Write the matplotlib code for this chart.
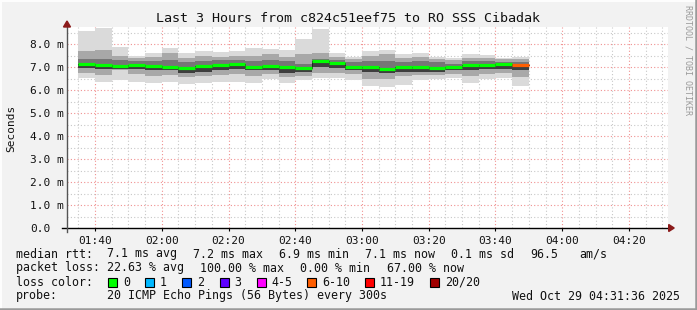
import matplotlib
matplotlib.use("Agg")
import matplotlib.pyplot as plt
from matplotlib.lines import Line2D
from matplotlib.patches import Rectangle, Polygon

# ---------------- data ----------------
# bar start times, minutes since midnight (01:35 ... 03:45), 5-minute steps
bar_start = [95, 100, 105, 110, 115, 120, 125, 130, 135, 140, 145, 150, 155, 160,
             165, 170, 175, 180, 185, 190, 195, 200, 205, 210, 215, 220, 225]
rtt_max = [8.57, 8.68, 7.87, 7.48, 7.59, 7.84, 7.59, 7.70, 7.64, 7.70, 7.81, 7.77, 7.74, 8.22,
           8.65, 7.59, 7.45, 7.70, 7.74, 7.55, 7.59, 7.45, 7.41, 7.55, 7.52, 7.41, 7.45]
rtt_p90 = [7.70, 7.75, 7.50, 7.40, 7.45, 7.60, 7.40, 7.50, 7.45, 7.50, 7.50, 7.55, 7.45, 7.55,
           7.60, 7.45, 7.35, 7.50, 7.55, 7.40, 7.45, 7.35, 7.30, 7.40, 7.40, 7.35, 7.35]
rtt_p75 = [7.35, 7.35, 7.30, 7.25, 7.25, 7.30, 7.20, 7.25, 7.30, 7.30, 7.25, 7.30, 7.25, 7.15,
           7.35, 7.30, 7.20, 7.25, 7.25, 7.20, 7.25, 7.20, 7.15, 7.25, 7.25, 7.20, 7.20]
rtt_median = [7.13, 7.09, 7.06, 7.09, 7.04, 7.00, 6.96, 7.04, 7.09, 7.14, 7.00, 7.06, 6.99, 6.96,
              7.25, 7.17, 7.00, 7.00, 6.93, 7.00, 7.00, 6.96, 7.00, 7.09, 7.10, 7.14, 7.09]
rtt_p25 = [6.94, 6.90, 6.90, 6.90, 6.85, 6.85, 6.75, 6.80, 6.85, 6.90, 6.85, 6.85, 6.75, 6.80,
           7.00, 6.95, 6.85, 6.80, 6.75, 6.80, 6.80, 6.80, 6.85, 6.85, 6.90, 6.90, 6.85]
rtt_p10 = [6.72, 6.65, 6.85, 6.70, 6.60, 6.65, 6.55, 6.60, 6.65, 6.70, 6.60, 6.70, 6.55, 6.60,
           6.75, 6.75, 6.70, 6.50, 6.50, 6.60, 6.65, 6.65, 6.70, 6.60, 6.70, 6.75, 6.55]
rtt_min = [6.51, 6.36, 6.43, 6.36, 6.32, 6.36, 6.25, 6.29, 6.36, 6.36, 6.32, 6.46, 6.32, 6.43,
           6.51, 6.51, 6.43, 6.17, 6.15, 6.22, 6.43, 6.46, 6.51, 6.32, 6.46, 6.54, 6.19]
# packet-loss class per bar (index into loss_colors)
loss_class = [0] * 26 + [5]

loss_labels = ["0", "1", "2", "3", "4-5", "6-10", "11-19", "20/20"]
loss_colors = ["#00ff00", "#00b8ff", "#0059ff", "#5e00ff", "#ff00ff", "#ff5e00", "#ff0000", "#a10000"]

x_ticks = [100, 120, 140, 160, 180, 200, 220, 240, 260]
x_tick_labels = ["01:40", "02:00", "02:20", "02:40", "03:00", "03:20", "03:40", "04:00", "04:20"]
y_ticks = [0, 1, 2, 3, 4, 5, 6, 7, 8]
y_tick_labels = ["0.0", "1.0 m", "2.0 m", "3.0 m", "4.0 m", "5.0 m", "6.0 m", "7.0 m", "8.0 m"]

title = "Last 3 Hours from c824c51eef75 to RO SSS Cibadak"
stats_rtt = [("median rtt:", 16), ("7.1 ms avg", 107), ("7.2 ms max", 193), ("6.9 ms min", 279),
             ("7.1 ms now", 365), ("0.1 ms sd", 451), ("96.5", 530), ("am/s", 579)]
stats_loss = [("packet loss:", 16), ("22.63 % avg", 107), ("100.00 % max", 200),
              ("0.00 % min", 300), ("67.00 % now", 387)]
loss_box_x = [108, 145, 182, 219.5, 256.5, 307, 365, 430]
probe_text = "20 ICMP Echo Pings (56 Bytes) every 300s"
date_text = "Wed Oct 29 04:31:36 2025"

x_start, x_end = 91.6, 271.6   # 01:31:36 .. 04:31:36
step = 5
y_top = 8.74

# ---------------- figure ----------------
W, H = 697, 310
BG = "#f2f2f2"
fig = plt.figure(figsize=(W / 100, H / 100), dpi=100, facecolor=BG)
MONO = "DejaVu Sans Mono"

def fx(px):
    return px / W

def fy(py):
    return 1 - py / H

L, R, T, B = 67, 667.7, 27, 228
ax = fig.add_axes([fx(L), fy(B), fx(R) - fx(L), fy(T) - fy(B)])
ax.set_facecolor("white")
ax.set_xlim(x_start, x_end)
ax.set_ylim(0, y_top)
for s in ax.spines.values():
    s.set_visible(False)

# grid (drawn under the smoke, like rrdtool)
dot = (0, (1, 2))
for xv in range(95, 272, 5):
    major = (xv % 20 == 0)
    ax.axvline(xv, color="#f09090" if major else "#c8c8c8", lw=0.8, ls=dot, zorder=1)
for i in range(1, 18):
    yv = i * 0.5
    if yv > y_top:
        break
    major = (i % 2 == 0)
    ax.axhline(yv, color="#f09090" if major else "#c8c8c8", lw=0.8, ls=dot, zorder=1)

# smoke
layers = [
    (rtt_min, rtt_max, "#dadada"),
    (rtt_p10, rtt_p90, "#a8a8a8"),
    (rtt_p25, rtt_p75, "#767676"),
    (rtt_p25, rtt_median, "#3e3e3e"),
]
for lo, hi, col in layers:
    ax.bar(bar_start, [h - l for l, h in zip(lo, hi)], width=step, bottom=lo,
           align="edge", color=col, linewidth=0, zorder=2)

# median: thin dark step connector + coloured segments
ax.step(bar_start + [bar_start[-1] + step], rtt_median + [rtt_median[-1]], where="post",
        color="#202020", lw=0.7, zorder=3)
for xs, m, c in zip(bar_start, rtt_median, loss_class):
    ax.hlines(m, xs, xs + step, colors=loss_colors[c], lw=2.3, zorder=4)

# ticks
ax.set_xticks(x_ticks, x_tick_labels)
ax.set_yticks(y_ticks, y_tick_labels)
ax.tick_params(axis="x", length=2, width=0.8, color="black", pad=3.5,
               labelsize=8, labelfontfamily=MONO, labelcolor="#111111")
ax.tick_params(axis="y", length=0, pad=26.6, labelsize=8,
               labelfontfamily=MONO, labelcolor="#111111")
for lbl in ax.get_yticklabels():
    lbl.set_horizontalalignment("left")

# axis lines with arrows
ax.add_line(Line2D([x_start - 5 / 3.333, x_end + 0.6], [0, 0], color="black", lw=1.0,
                   clip_on=False, zorder=6))
ax.add_line(Line2D([x_start, x_start], [-4 / 23, y_top + 0.05], color="#555555", lw=1.0,
                   clip_on=False, zorder=6))
px_x = (x_end - x_start) / (R - L)
px_y = y_top / (B - T)
ax.add_patch(Polygon([[x_end + 0.3, 3.5 * px_y], [x_end + 0.3, -3.5 * px_y],
                      [x_end + 6.5 * px_x, 0]], closed=True, color="#8b1a1a",
                     clip_on=False, zorder=7))
ax.add_patch(Polygon([[x_start - 3.5 * px_x, y_top], [x_start + 3.5 * px_x, y_top],
                      [x_start, y_top + 6 * px_y]], closed=True, color="#8b1a1a",
                     clip_on=False, zorder=7))

# labels
fig.text(fx(348), fy(18), title, ha="center", va="center", fontsize=9.6,
         family=MONO, color="#111111")
fig.text(fx(11), fy(128), "Seconds", ha="center", va="center", rotation=90,
         fontsize=8, family=MONO, color="#111111")
fig.text(fx(688), fy(60), "RRDTOOL / TOBI OETIKER", ha="center", va="center",
         rotation=270, fontsize=6, family=MONO, color="#9a9a9a")

# legend
LFS = 8.4
for txt, x in stats_rtt:
    fig.text(fx(x), fy(254), txt, ha="left", va="center", fontsize=LFS, family=MONO, color="#111111")
for txt, x in stats_loss:
    fig.text(fx(x), fy(268), txt, ha="left", va="center", fontsize=LFS, family=MONO, color="#111111")
fig.text(fx(16), fy(282), "loss color:", ha="left", va="center", fontsize=LFS, family=MONO, color="#111111")
for bx, col, lab in zip(loss_box_x, loss_colors, loss_labels):
    fig.patches.append(Rectangle((fx(bx), fy(286.5)), fx(9), 9 / H, transform=fig.transFigure,
                                 facecolor=col, edgecolor="black", lw=0.8))
    fig.text(fx(bx + 15), fy(282), lab, ha="left", va="center", fontsize=LFS, family=MONO, color="#111111")
fig.text(fx(16), fy(296), "probe:", ha="left", va="center", fontsize=LFS, family=MONO, color="#111111")
fig.text(fx(107), fy(296), probe_text, ha="left", va="center", fontsize=LFS, family=MONO, color="#111111")
fig.text(fx(680), fy(296), date_text, ha="right", va="center", fontsize=LFS, family=MONO, color="#111111")

# frame (3-D border)
fig.add_artist(Line2D([0, 1], [1 - 1 / H, 1 - 1 / H], transform=fig.transFigure, color="#fdfdfd", lw=1.5))
fig.add_artist(Line2D([1 / W, 1 / W], [0, 1], transform=fig.transFigure, color="#fdfdfd", lw=1.5))
fig.add_artist(Line2D([0, 1], [1.2 / H, 1.2 / H], transform=fig.transFigure, color="#9a9a9a", lw=1.8))
fig.add_artist(Line2D([1 - 1.2 / W, 1 - 1.2 / W], [0, 1], transform=fig.transFigure, color="#9a9a9a", lw=1.8))

fig.savefig("out.png", dpi=100, facecolor=BG)
